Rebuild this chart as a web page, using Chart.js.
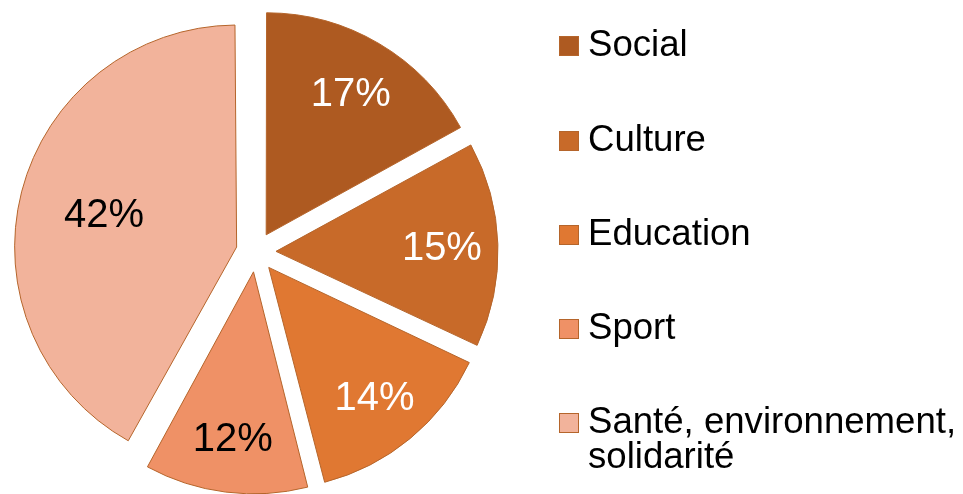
<!DOCTYPE html>
<html>
<head>
<meta charset="utf-8">
<script src="https://cdn.jsdelivr.net/npm/chart.js@4"></script>
<style>
  html, body { margin: 0; padding: 0; background: #ffffff; }
  #wrap { position: relative; width: 963px; height: 494px; overflow: hidden; }
  #c { position: absolute; left: 0; top: 0; }
  .lg-item { position: absolute; left: 588px; width: 374px;
    font-family: "Liberation Sans", Arial, sans-serif; font-size: 36.6px; line-height: 35px; color: #000; }
  .lg-box { position: absolute; width: 20px; height: 20px; box-sizing: border-box; border: 1px solid #B5652B; left: 559px; }
</style>
</head>
<body>
<div id="wrap">
  <canvas id="c" width="963" height="494"></canvas>
</div>
<script>
// ---- data ----
const categories = ["Social", "Culture", "Education", "Sport", "Santé, environnement, solidarité"];
const shares = [17, 15, 14, 12, 42];
const sliceColors = ["#AE5A21", "#C86A29", "#E07832", "#EF9166", "#F2B39B"];
const labelColors = ["#FFFFFF", "#FFFFFF", "#FFFFFF", "#000000", "#000000"];

// ---- style constants ----
const EXPLODE = 20;            // px each slice is pulled out
const RADIUS = 222;
const labelDist = [166, 166, 166, 166, 137];
const legendBaselines = [56, 151, 245, 339, 433];

// Keep all slices at equal radius (Chart.js enlarges narrow exploded slices)
const equalRadius = {
  id: 'equalRadius',
  afterDatasetsUpdate(chart) {
    const meta = chart.getDatasetMeta(0);
    meta.data.forEach(arc => {
      const circ = arc.endAngle - arc.startAngle;
      const fix = 1 - Math.sin(Math.min(Math.PI, circ));
      arc.outerRadius = RADIUS - EXPLODE * fix;
    });
  }
};

const pctLabels = {
  id: 'pctLabels',
  afterDatasetsDraw(chart) {
    const ctx = chart.ctx;
    const meta = chart.getDatasetMeta(0);
    const ds = chart.data.datasets[0];
    ctx.save();
    const fs = 40;
    ctx.font = fs + 'px "Liberation Sans", Arial, sans-serif';
    ctx.textAlign = 'center';
    ctx.textBaseline = 'alphabetic';
    meta.data.forEach((arc, i) => {
      const mid = (arc.startAngle + arc.endAngle) / 2;
      const d = EXPLODE + labelDist[i];
      const x = arc.x + Math.cos(mid) * d;
      const y = arc.y + Math.sin(mid) * d;
      ctx.fillStyle = labelColors[i];
      ctx.fillText(ds.data[i] + '%', x, y + 0.358 * fs);
    });
    ctx.restore();
  }
};

new Chart(document.getElementById('c'), {
  type: 'pie',
  data: {
    labels: categories,
    datasets: [{
      data: shares,
      backgroundColor: sliceColors,
      borderColor: '#B5652B',
      borderWidth: 1,
      offset: EXPLODE * 4,
      radius: RADIUS
    }]
  },
  options: {
    responsive: false,
    animation: false,
    layout: { padding: { left: 0, right: 451, top: 10, bottom: 0 } },
    plugins: {
      legend: { display: false },
      tooltip: { enabled: false }
    }
  },
  plugins: [equalRadius, pctLabels]
});

// HTML legend built from the data arrays
const wrap = document.getElementById('wrap');
categories.forEach((name, i) => {
  const b = legendBaselines[i];
  const box = document.createElement('div');
  box.className = 'lg-box';
  box.style.top = (b - 20) + 'px';
  box.style.background = sliceColors[i];
  wrap.appendChild(box);
  const t = document.createElement('div');
  t.className = 'lg-item';
  t.style.top = (b - 30) + 'px';
  t.textContent = name;
  wrap.appendChild(t);
});
</script>
</body>
</html>
